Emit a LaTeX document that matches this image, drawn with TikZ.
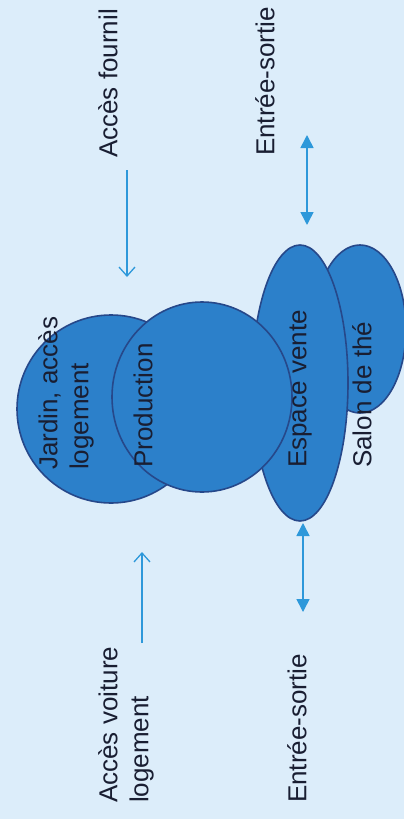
\documentclass[tikz,border=0pt]{standalone}
\usepackage{fontspec}
\setmainfont{Liberation Sans}
\usetikzlibrary{arrows.meta}
\definecolor{bg}{RGB}{220,237,250}
\definecolor{zonefill}{RGB}{44,128,202}
\definecolor{zoneline}{RGB}{38,72,138}
\definecolor{arrowcol}{RGB}{45,152,218}
\definecolor{txt}{RGB}{25,30,50}
\tikzset{
  zone/.style={draw=zoneline, fill=zonefill, line width=1.6pt},
  lbl/.style={rotate=90, inner sep=0pt, text=txt, font=\fontsize{26}{31}\selectfont, align=left},
  openarrow/.style={draw=arrowcol, line width=1.3pt, -{Straight Barb[length=9pt,width=16pt,line width=1.3pt]}},
  dblarrow/.style={draw=arrowcol, line width=1.6pt, {Triangle[length=13pt,width=13pt]}-{Triangle[length=13pt,width=13pt]}}
}
\begin{document}
\begin{tikzpicture}[x=1pt,y=-1pt]
\fill[bg] (0,0) rectangle (404,819);
\useasboundingbox (0,0) rectangle (404,819);
% zones
\draw[zone] (360,329) ellipse [x radius=46, y radius=84];
\node[coordinate] (salon) at (360,329) {};
\draw[zone] (300,383) ellipse [x radius=48, y radius=138];
\node[coordinate] (espace) at (300,383) {};
\draw[zone] (111,409) circle [radius=94];
\node[coordinate] (jardin) at (111,409) {};
\draw[zone] (202,397) ellipse [x radius=90, y radius=95];
\node[coordinate] (prod) at (202,397) {};
% labels in zones
\node[lbl, anchor=west] (tjardin) at (66,470) {Jardin, accès\\logement};
\node[lbl, anchor=west] (tprod) at (143,468) {Production};
\node[lbl, anchor=west] (tespace) at (300,468) {Espace vente};
\node[lbl, anchor=west] (tsalon) at (362,468) {Salon de thé};
% outside labels
\node[lbl, anchor=west] (tfournil) at (108,158) {Accès fournil};
\node[lbl, anchor=west] (tes1) at (265,156) {Entrée-sortie};
\node[lbl, anchor=west] (tvoiture) at (126,803) {Accès voiture\\logement};
\node[lbl, anchor=west] (tes2) at (297,803) {Entrée-sortie};
% arrows
\coordinate (f1) at (127,170);
\coordinate (f2) at (127,277);
\draw[openarrow] (f1) -- (f2);
\coordinate (e1) at (307,135);
\coordinate (e2) at (307,225);
\draw[dblarrow] (e1) -- (e2);
\coordinate (v1) at (142,643);
\coordinate (v2) at (142,552);
\draw[openarrow] (v1) -- (v2);
\coordinate (s1) at (303,523);
\coordinate (s2) at (303,612);
\draw[dblarrow] (s1) -- (s2);
\end{tikzpicture}
\end{document}
